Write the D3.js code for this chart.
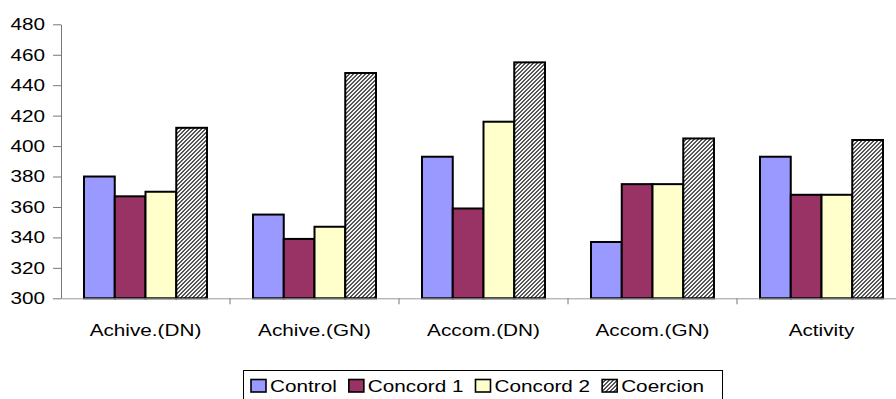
<!DOCTYPE html>
<html>
<head>
<meta charset="utf-8">
<script src="https://cdn.jsdelivr.net/npm/d3@7"></script>
<style>
  html, body { margin: 0; padding: 0; background: #fff; overflow: hidden; }
  svg { display: block; font-family: "Liberation Sans", Arial, sans-serif; }
</style>
</head>
<body>
<svg id="chart" width="896" height="399"></svg>
<script>
// Categories, series and values
const categories = ["Achive.(DN)", "Achive.(GN)", "Accom.(DN)", "Accom.(GN)", "Activity"];
const seriesNames = ["Control", "Concord 1", "Concord 2", "Coercion"];
const control   = [380, 355, 393, 337, 393];
const concord1  = [367, 339, 359, 375, 368];
const concord2  = [370, 347, 416, 375, 368];
const coercion  = [412, 448, 455, 405, 404];
const yTicks = [300, 320, 340, 360, 380, 400, 420, 440, 460, 480];

const seriesValues = [control, concord1, concord2, coercion];
const fills = ["#9999ff", "#993366", "#ffffcc", "url(#hatch)"];

// Text is drawn slightly wide, as in the original export
const FONT = 17, SX = 1.22;

const svg = d3.select("#chart");

// Fine diagonal dot hatch for the last series
const defs = svg.append("defs");
const pat = defs.append("pattern")
  .attr("id", "hatch").attr("patternUnits", "userSpaceOnUse")
  .attr("width", 4).attr("height", 4);
pat.append("rect").attr("width", 4).attr("height", 4).attr("fill", "#f4f4f4");
const cells = [];
for (let i = 0; i < 4; i++) for (let j = 0; j < 4; j++) {
  if ((i + j) % 4 === 0 || (i + j) % 4 === 1) cells.push([i, j]);
}
pat.selectAll("rect.px").data(cells).join("rect")
  .attr("class", "px")
  .attr("x", d => d[0]).attr("y", d => d[1])
  .attr("width", 1).attr("height", 1)
  .attr("fill", "#555")
  .attr("shape-rendering", "crispEdges");

const plotLeft = 61, plotTop = 24.3, plotBottom = 298.3, catWidth = 169;

const x = d3.scaleBand().domain(categories)
  .range([plotLeft, plotLeft + catWidth * categories.length]).padding(0);
const inner = d3.scaleBand().domain(seriesNames)
  .range([23, catWidth - 23]).padding(0);
const y = d3.scaleLinear().domain([300, 480]).range([plotBottom, plotTop]);

// Bars
const groups = svg.append("g").selectAll("g")
  .data(categories).join("g")
  .attr("transform", d => `translate(${x(d)},0)`);

groups.selectAll("rect")
  .data((c, ci) => seriesNames.map((s, si) => ({ s, si, v: seriesValues[si][ci] })))
  .join("rect")
  .attr("x", d => inner(d.s))
  .attr("y", d => y(d.v))
  .attr("width", inner.bandwidth())
  .attr("height", d => plotBottom - y(d.v))
  .attr("fill", d => fills[d.si])
  .attr("stroke", "#000")
  .attr("stroke-width", 2);

// Y axis
const yAxis = svg.append("g")
  .attr("transform", `translate(${plotLeft},0)`)
  .call(d3.axisLeft(y).tickValues(yTicks).tickSize(8).tickPadding(8).tickSizeOuter(0));
yAxis.select(".domain").attr("stroke", "#777");
yAxis.selectAll(".tick line").attr("stroke", "#777");
yAxis.selectAll(".tick text")
  .attr("x", 0)
  .attr("transform", `translate(-16,0) scale(${SX},1)`)
  .attr("font-size", FONT).attr("fill", "#000")
  .attr("font-family", "Liberation Sans, Arial, sans-serif");

// X axis
const xAxis = svg.append("g")
  .attr("transform", `translate(0,${plotBottom})`)
  .call(d3.axisBottom(x).tickSize(0).tickSizeOuter(0));
xAxis.select(".domain").attr("stroke", "#999");
xAxis.selectAll(".tick text")
  .attr("y", 0).attr("dy", 0)
  .attr("transform", `translate(0,37.2) scale(${SX},1)`)
  .attr("font-size", FONT).attr("fill", "#000")
  .attr("font-family", "Liberation Sans, Arial, sans-serif");

// Category separator ticks
svg.append("g").selectAll("line")
  .data(categories.slice(1))
  .join("line")
  .attr("x1", d => x(d)).attr("x2", d => x(d))
  .attr("y1", plotBottom).attr("y2", plotBottom + 6)
  .attr("stroke", "#777");

// Legend
const legend = svg.append("g");
legend.append("rect")
  .attr("x", 243.5).attr("y", 370.5).attr("width", 479).attr("height", 40)
  .attr("fill", "#fff").attr("stroke", "#000").attr("stroke-width", 1);

let lx = 251;
seriesNames.forEach((name, i) => {
  const item = legend.append("g");
  item.append("rect")
    .attr("x", lx).attr("y", 379.5).attr("width", 15).attr("height", 12.5)
    .attr("fill", fills[i]).attr("stroke", "#000").attr("stroke-width", 1.6);
  const t = item.append("text")
    .attr("transform", `translate(${lx + 19},392) scale(${SX},1)`)
    .attr("font-size", FONT).attr("fill", "#000")
    .text(name);
  lx += 19 + t.node().getComputedTextLength() * SX + 12;
});
</script>
</body>
</html>
